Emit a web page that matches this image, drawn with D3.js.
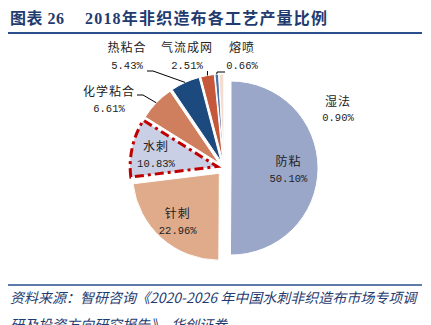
<!DOCTYPE html>
<html>
<head>
<meta charset="utf-8">
<script src="https://cdn.jsdelivr.net/npm/d3@7"></script>
<style>
  html, body { margin: 0; padding: 0; background: #fff; }
  svg { display: block; }
</style>
</head>
<body>
<div id="chart"></div>
<script>
// 2018年非织造布各工艺产量比例
const names  = ['防粘', '针刺', '水刺', '化学粘合', '热粘合', '气流成网', '熔喷', '湿法'];
const shares = [50.10, 22.96, 10.83, 6.61, 5.43, 2.51, 0.66, 0.90];
const palette = ['#9aa7c8', '#dfab8b', '#c9cfe4', '#cf7f5d', '#1c4a7e', '#c5583a', '#4e70a8', '#f3dcd0'];

const title = '2018年非织造布各工艺产量比例';
const source = ['资料来源：智研咨询《2020-2026 年中国水刺非织造布市场专项调',
                '研及投资方向研究报告》，华创证券'];

const W = 431, H = 325;
const cx = 224, cy = 168, R = 87, explode = 7;
const highlight = '水刺';
const inside = ['防粘', '针刺', '水刺'];

// outside labels: text centre + leader route, relative to the pie centre
const outside = {
  '化学粘合': { t: [-115, -76], gap: 16, leader: [[-81, -73], [-87, -73]] },
  '热粘合':   { t: [-97, -120], gap: 17, leader: [[-71, -97], [-77, -97]] },
  '气流成网': { t: [-37, -120], gap: 17, leader: 'up' },
  '熔喷':     { t: [18, -120],  gap: 17, leader: [[-7, -96], [1, -96]] },
  '湿法':     { t: [114, -66],  gap: 15, leader: null }
};

const svg = d3.select('#chart').append('svg').attr('width', W).attr('height', H);
svg.append('rect').attr('width', W).attr('height', H).attr('fill', '#fff');

// header
const navy = '#1f3b6f';
const head = svg.append('text').attr('x', 10).attr('y', 24)
  .attr('fill', navy).attr('font-weight', 'bold').attr('font-size', 16)
  .attr('font-family', '"Liberation Serif", "Noto Sans CJK SC", serif');
head.append('tspan').attr('letter-spacing', 0.5).text('图表 26');
head.append('tspan').attr('x', 85).attr('letter-spacing', 1.2).text(title);
svg.append('line').attr('x1', 8).attr('x2', 422).attr('y1', 33).attr('y2', 33)
  .attr('stroke', '#2a4f8c').attr('stroke-width', 2);

// footer
svg.append('line').attr('x1', 8).attr('x2', 422).attr('y1', 285).attr('y2', 285)
  .attr('stroke', '#2a4f8c').attr('stroke-width', 1.5);
svg.selectAll('text.src').data(source).enter().append('text')
  .attr('class', 'src')
  .attr('x', 10).attr('y', (d, i) => 303 + i * 27)
  .attr('fill', navy).attr('font-size', 14).attr('font-style', 'italic')
  .attr('font-family', '"Noto Sans CJK SC", sans-serif')
  .text(d => d);

// pie
const data = names.map((n, i) => ({ name: n, value: shares[i] }));
const color = d3.scaleOrdinal().domain(names).range(palette);
const pie = d3.pie().value(d => d.value).sort(null);
const arcs = pie(data);
const arc = d3.arc().innerRadius(0).outerRadius(R);

const mid = a => (a.startAngle + a.endAngle) / 2;
const shift = a => [Math.sin(mid(a)) * explode, -Math.cos(mid(a)) * explode];
const polar = (a, r) => [Math.sin(mid(a)) * r, -Math.cos(mid(a)) * r];

const g = svg.append('g').attr('transform', `translate(${cx},${cy})`);

g.selectAll('path.slice').data(arcs).enter().append('path')
  .attr('class', 'slice')
  .attr('transform', d => `translate(${shift(d)})`)
  .attr('d', arc)
  .attr('fill', d => color(d.data.name))
  .attr('stroke', '#fff').attr('stroke-width', 1)
  .filter(d => d.data.name === highlight)
  .attr('stroke', '#c00000').attr('stroke-width', 3)
  .attr('stroke-dasharray', '9,4,3,4');

// keep highlighted outline on top
g.selectAll('path.slice').filter(d => d.data.name === highlight).raise();

const chinese = '"Noto Sans CJK SC", sans-serif';
const numFont = '"Liberation Mono", monospace';
const pct = v => v.toFixed(2) + '%';

function label(x, y, gap, d) {
  const t = g.append('g').attr('transform', `translate(${x},${y})`);
  t.append('text').attr('text-anchor', 'middle').attr('dy', '0.35em')
    .attr('font-family', chinese).attr('font-size', 12).attr('fill', '#222')
    .attr('letter-spacing', 1)
    .text(d.data.name);
  t.append('text').attr('text-anchor', 'middle').attr('dy', '0.35em')
    .attr('y', gap)
    .attr('font-family', numFont).attr('font-size', 10.5).attr('fill', '#222')
    .text(pct(d.data.value));
}

arcs.forEach(d => {
  const s = shift(d);
  if (inside.includes(d.data.name)) {
    const r = d.data.name === '防粘' ? 0.66 * R : 0.72 * R;
    const p = polar(d, r);
    label(p[0] + s[0], p[1] + s[1] - 6, 16, d);
    return;
  }
  const o = outside[d.data.name];
  if (!o) return;
  label(o.t[0], o.t[1], o.gap, d);
  if (o.leader) {
    const edge = polar(d, R);
    const start = [edge[0] + s[0], edge[1] + s[1]];
    const pts = o.leader === 'up' ? [start, [start[0], -97]] : [start].concat(o.leader);
    g.append('path').attr('d', d3.line()(pts))
      .attr('fill', 'none').attr('stroke', '#000').attr('stroke-width', 1);
  }
});
</script>
</body>
</html>
